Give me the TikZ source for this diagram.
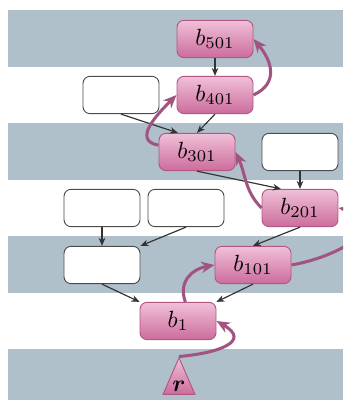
\documentclass[tikz,border=0pt]{standalone}
\usepackage{tikz}
\usepackage{bm}
\usetikzlibrary{shapes.geometric, arrows.meta}
\definecolor{bandcolor}{RGB}{175,192,203}
\definecolor{blocktop}{RGB}{240,192,216}
\definecolor{blockbot}{RGB}{204,108,156}
\definecolor{blockline}{RGB}{178,86,130}
\definecolor{linkcolor}{RGB}{162,84,128}

\begin{document}
\begin{tikzpicture}[
    x=0.015cm, y=0.015cm,
    band/.style={fill=bandcolor},
    block/.style={draw=blockline, top color=blocktop, bottom color=blockbot, minimum width=1.14cm, minimum height=0.56cm, rounded corners=3pt, inner sep=0pt},
    slot/.style={draw=black!70, fill=white, minimum width=1.14cm, minimum height=0.56cm, rounded corners=3pt, inner sep=0pt},
    root/.style={draw=blockline, top color=blocktop, bottom color=blockbot, isosceles triangle, isosceles triangle stretches, shape border rotate=90, minimum width=0.48cm, minimum height=0.55cm, inner sep=0pt},
    dep/.style={-{Stealth[length=1.2mm, width=1mm]}, black!80, line width=0.5pt},
    link/.style={-{Stealth[length=2mm, width=1.7mm]}, linkcolor, line width=1.3pt}
]
    \useasboundingbox (0,0) rectangle (343,-400);
    \clip (0,0) rectangle (343,-400);

    % Levels
    \foreach \y in {10,123,236,349}
        \fill[band] (8,-\y) rectangle (343,-\y-57);

    % Blocks
    \node[block] (b501) at (215,-39) {$b_{501}$};
    \node[block] (b401) at (215,-95) {$b_{401}$};
    \node[block] (b301) at (197,-152) {$b_{301}$};
    \node[block] (b201) at (300,-208) {$b_{201}$};
    \node[block] (b101) at (253,-265) {$b_{101}$};
    \node[block] (b1) at (178,-321) {$b_{1}$};
    \node[root] (rt) at (179,-386) {$\bm{r}$};

    % Empty blocks
    \node[slot] (w401) at (121,-95) {};
    \node[slot] (w301) at (300,-152) {};
    \node[slot] (w201a) at (102,-208) {};
    \node[slot] (w201b) at (186,-208) {};
    \node[slot] (w101) at (102,-265) {};

    % Parent links
    \draw[dep] (b501.south) -- (b401.north);
    \draw[dep] (b401.south) -- (b301.north);
    \draw[dep] (w401.south) -- (b301.135);
    \draw[dep] (b301.south) -- (b201.135);
    \draw[dep] (w301.south) -- (b201.north);
    \draw[dep] (b201.south) -- (b101.north);
    \draw[dep] (w201a.south) -- (w101.north);
    \draw[dep] (w201b.south) -- (w101.north east);
    \draw[dep] (w101.south) -- (b1.north west);
    \draw[dep] (b101.south) -- (b1.north east);

    % Walk
    \draw[link] (rt.apex) to[out=5, in=-30, looseness=2] (b1.east);
    \draw[link] (b1.69) to[out=110, in=190, looseness=1.2] (b101.west);
    \draw[link] (b101.east) to[out=10, in=-10, looseness=2] (b201.east);
    \draw[link] (b201.west) to[out=135, in=-65] (b301.east);
    \draw[link] (b301.170) to[out=170, in=225, looseness=1.3] (b401.west);
    \draw[link] (b401.east) to[out=25, in=-50, looseness=1.3] (b501.east);
\end{tikzpicture}
\end{document}
